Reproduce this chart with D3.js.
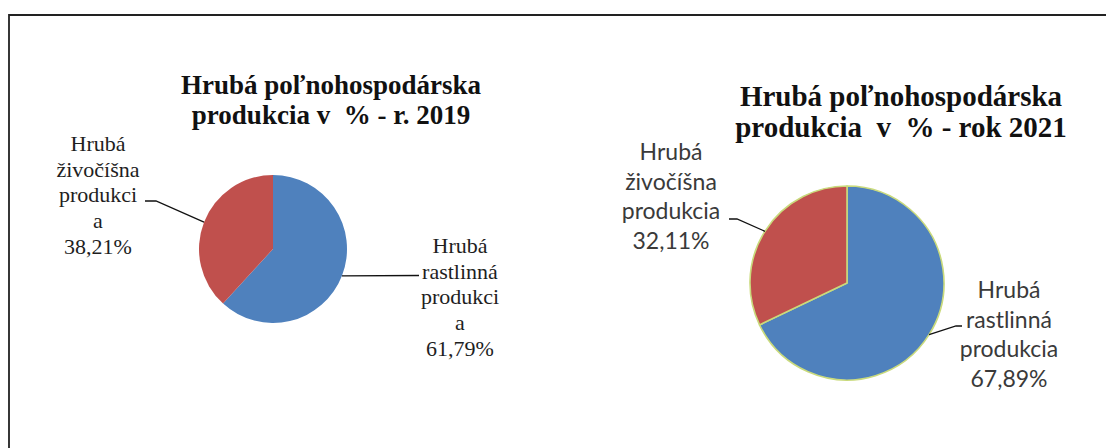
<!DOCTYPE html>
<html>
<head>
<meta charset="utf-8">
<script src="https://cdn.jsdelivr.net/npm/d3@7"></script>
<style>
  html, body { margin: 0; padding: 0; background: #fff; }
  svg { display: block; }
</style>
</head>
<body>
<div id="chart"></div>
<script>
// Two pie charts side by side: gross agricultural production 2019 vs 2021

// data
const categories = ['Hrubá rastlinná produkcia', 'Hrubá živočíšna produkcia'];
const values2019 = [61.79, 38.21];
const values2021 = [67.89, 32.11];
const titles2019 = ['Hrubá poľnohospodárska', 'produkcia v  % - r. 2019'];
const titles2021 = ['Hrubá poľnohospodárska', 'produkcia  v  % - rok 2021'];
const labelLines2019 = [['Hrubá', 'rastlinná', 'produkci', 'a'], ['Hrubá', 'živočíšna', 'produkci', 'a']];
const labelLines2021 = [['Hrubá', 'rastlinná', 'produkcia'], ['Hrubá', 'živočíšna', 'produkcia']];
const sliceColors = ['#4f81bd', '#c0504d'];

const W = 1106, H = 448;

const svg = d3.select('#chart')
  .append('svg')
  .attr('width', W)
  .attr('height', H);

// frame (top + left edge only, like the scanned original)
svg.append('path')
  .attr('d', `M9,${H} L9,15 L${W},15`)
  .attr('fill', 'none')
  .attr('stroke', '#222')
  .attr('stroke-width', 1.8);

const fmtPct = v => d3.format('.2f')(v).replace('.', ',') + '%';
const color = d3.scaleOrdinal().domain(categories).range(sliceColors);

function drawPie(opt) {
  const data = categories.map((c, i) => ({ name: c, value: opt.values[i], lines: opt.labels[i] }));
  const pie = d3.pie().sort(null).value(d => d.value);
  const arcs = pie(data);
  const arc = d3.arc().innerRadius(0).outerRadius(opt.r);
  const edge = d3.arc().innerRadius(opt.r).outerRadius(opt.r);

  const g = svg.append('g');

  // title
  g.append('text')
    .attr('text-anchor', 'middle')
    .attr('font-family', "'Liberation Serif', 'Times New Roman', serif")
    .attr('font-weight', 'bold')
    .attr('font-size', opt.titleSize)
    .attr('fill', '#111')
    .style('white-space', 'pre')
    .selectAll('tspan')
    .data(opt.title)
    .enter()
    .append('tspan')
    .attr('x', opt.titleX)
    .attr('y', (d, i) => opt.titleY + i * opt.titleStep)
    .text(d => d);

  const pg = g.append('g')
    .attr('transform', `translate(${opt.cx}, ${opt.cy})`);

  pg.selectAll('path.slice')
    .data(arcs)
    .enter()
    .append('path')
    .attr('class', 'slice')
    .attr('d', arc)
    .attr('fill', d => color(d.data.name))
    .attr('stroke', opt.stroke || 'none')
    .attr('stroke-width', opt.strokeWidth || 0)
    .attr('stroke-linejoin', 'round');

  // leader lines + labels
  arcs.forEach((a, i) => {
    const lay = opt.labelLayout[i];
    const [px, py] = edge.centroid(a);
    const pts = [[opt.cx + px, opt.cy + py]].concat(lay.leader);
    g.append('path')
      .attr('d', d3.line()(pts))
      .attr('fill', 'none')
      .attr('stroke', '#111')
      .attr('stroke-width', 1.3);

    const lines = a.data.lines.concat([fmtPct(a.data.value)]);
    g.append('text')
      .attr('text-anchor', 'middle')
      .attr('font-family', opt.labelFont)
      .attr('font-size', opt.labelSize)
      .attr('fill', opt.labelColor)
      .selectAll('tspan')
      .data(lines)
      .enter()
      .append('tspan')
      .attr('x', lay.x)
      .attr('y', (d, j) => lay.y + j * opt.labelStep)
      .text(d => d);
  });
}

drawPie({
  values: values2019,
  labels: labelLines2019,
  title: titles2019,
  cx: 273, cy: 249, r: 74,
  titleX: 331, titleY: 94, titleStep: 30, titleSize: 27,
  labelFont: "'Liberation Serif', 'Times New Roman', serif",
  labelSize: 22, labelStep: 25.7, labelColor: '#1e1e1e',
  labelLayout: [
    { x: 460, y: 253, leader: [[419, 275.5]] },
    { x: 98, y: 151, leader: [[156, 201], [145, 201]] }
  ]
});

drawPie({
  values: values2021,
  labels: labelLines2021,
  title: titles2021,
  cx: 847, cy: 283, r: 97,
  stroke: '#c9da7c', strokeWidth: 1.6,
  titleX: 901, titleY: 106, titleStep: 31, titleSize: 29,
  labelFont: "Lato, 'Open Sans', sans-serif",
  labelSize: 23, labelStep: 29.5, labelColor: '#3a3a3a',
  labelLayout: [
    { x: 1009, y: 298, leader: [[956, 326], [962, 326]] },
    { x: 671, y: 160, leader: [[737, 219], [729, 219]] }
  ]
});
</script>
</body>
</html>
